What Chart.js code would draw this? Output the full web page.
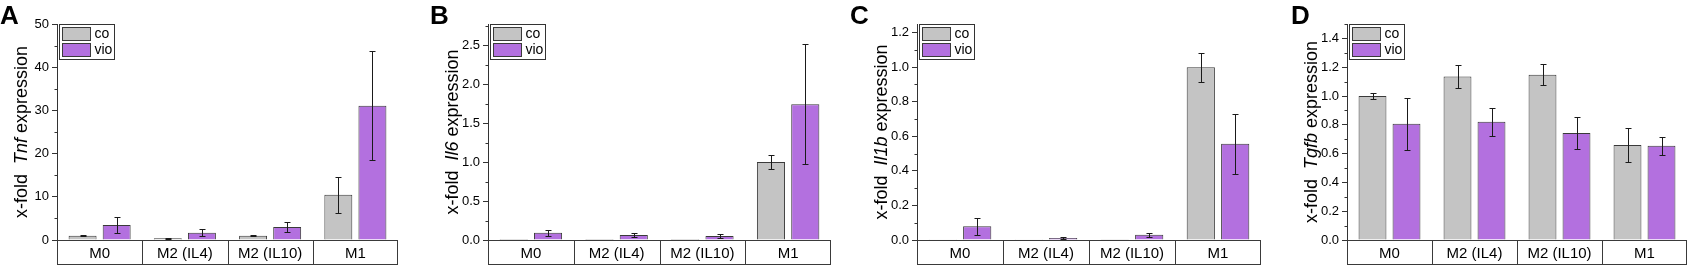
<!DOCTYPE html>
<html>
<head>
<meta charset="utf-8">
<script src="https://cdn.jsdelivr.net/npm/chart.js@4.4.1/dist/chart.umd.min.js"></script>
<style>
  html, body { margin:0; padding:0; background:#fff; }
  #wrap { position:relative; width:1688px; height:265px; overflow:hidden; background:#fff; }
  canvas { position:absolute; top:0; }
  .letter { position:absolute; top:2px; font-family:"Liberation Sans", Arial, sans-serif; font-weight:bold; font-size:26px; line-height:26px; color:#000; }
</style>
</head>
<body>
<div id="wrap">
  <canvas id="cA" width="420" height="265" style="left:0px"></canvas>
  <canvas id="cB" width="420" height="265" style="left:420px"></canvas>
  <canvas id="cC" width="428" height="265" style="left:840px"></canvas>
  <canvas id="cD" width="428" height="265" style="left:1260px"></canvas>
  <div class="letter" style="left:0px">A</div>
  <div class="letter" style="left:430px">B</div>
  <div class="letter" style="left:850px">C</div>
  <div class="letter" style="left:1291px">D</div>
</div>
<script>
// ---------- data ----------
const categories = ['M0', 'M2 (IL4)', 'M2 (IL10)', 'M1'];
const seriesNames = ['co', 'vio'];

const tnfCo     = [1.0, 0.4, 1.0, 10.45];
const tnfCoErr  = [0.1, 0.08, 0.15, 4.1];
const tnfVio    = [3.5, 1.7, 3.0, 31.1];
const tnfVioErr = [1.8, 0.85, 1.2, 12.6];

const il6Co     = [0.001, 0.001, 0.001, 1.0];
const il6CoErr  = [0, 0, 0, 0.095];
const il6Vio    = [0.094, 0.064, 0.051, 1.74];
const il6VioErr = [0.04, 0.025, 0.03, 0.77];

const il1bCo     = [0.001, 0.001, 0.002, 1.0];
const il1bCoErr  = [0, 0, 0, 0.084];
const il1bVio    = [0.079, 0.012, 0.031, 0.557];
const il1bVioErr = [0.048, 0.004, 0.012, 0.173];

const tgfbCo     = [1.0, 1.135, 1.147, 0.659];
const tgfbCoErr  = [0.02, 0.078, 0.073, 0.118];
const tgfbVio    = [0.808, 0.822, 0.743, 0.655];
const tgfbVioErr = [0.18, 0.097, 0.109, 0.063];

const yMaxA = 50,   yStepA = 10;
const yMaxB = 2.77, yStepB = 0.5;
const yMaxC = 1.25, yStepC = 0.2;
const yMaxD = 1.5,  yStepD = 0.2;

// ---------- styling ----------
const FONT = '"Liberation Sans", Arial, sans-serif';
Chart.defaults.font.family = FONT;
const COLORS = ['#c4c4c4', '#b370df'];
const LINE = '#3a3a3a';

const errorBarPlugin = {
  id: 'errorBars',
  afterDatasetsDraw(chart) {
    const ctx = chart.ctx, y = chart.scales.y;
    ctx.save();
    ctx.strokeStyle = '#1a1a1a';
    ctx.lineWidth = 1;
    chart.data.datasets.forEach((ds, di) => {
      const meta = chart.getDatasetMeta(di);
      meta.data.forEach((bar, i) => {
        const e = ds.errors[i];
        if (!e) return;
        const v = ds.data[i];
        const x = Math.round(bar.x) + 0.5;
        const yt = Math.round(y.getPixelForValue(v + e)) + 0.5;
        const yb = Math.round(y.getPixelForValue(Math.max(v - e, 0))) + 0.5;
        ctx.beginPath();
        ctx.moveTo(x, yt); ctx.lineTo(x, yb);
        ctx.moveTo(x - 3, yt); ctx.lineTo(x + 3, yt);
        ctx.moveTo(x - 3, yb); ctx.lineTo(x + 3, yb);
        ctx.stroke();
      });
    });
    ctx.restore();
  }
};

const decorPlugin = {
  id: 'decor',
  afterDraw(chart, args, opts) {
    const ctx = chart.ctx, ca = chart.chartArea, x = chart.scales.x, y = chart.scales.y;
    ctx.save();
    // category box
    ctx.strokeStyle = LINE;
    ctx.lineWidth = 1;
    const L = Math.round(ca.left) + 0.5, R = Math.round(ca.right) - 0.5;
    const T = Math.round(ca.bottom) + 0.5, B = T + 24;
    ctx.strokeRect(L, T, R - L, B - T);
    ctx.beginPath();
    for (let i = 0; i < categories.length - 1; i++) {
      const xm = Math.round((x.getPixelForValue(i) + x.getPixelForValue(i + 1)) / 2) + 0.5;
      ctx.moveTo(xm, T); ctx.lineTo(xm, B);
    }
    ctx.stroke();
    // minor ticks
    ctx.beginPath();
    const step = opts.step;
    for (let v = step / 2; v <= y.max + 1e-9; v += step) {
      const py = Math.round(y.getPixelForValue(v)) + 0.5;
      ctx.moveTo(L - 3, py); ctx.lineTo(L, py);
    }
    ctx.strokeStyle = '#333';
    ctx.stroke();
    // legend
    const lx = L + 2, ly = Math.round(ca.top) + 0.5;
    ctx.fillStyle = '#fff';
    ctx.fillRect(lx, ly, 55, 35);
    ctx.strokeStyle = '#333';
    ctx.strokeRect(lx, ly, 55, 35);
    chart.data.datasets.forEach((ds, di) => {
      const sy = ly + 3 + di * 16;
      ctx.fillStyle = ds.backgroundColor;
      ctx.fillRect(lx + 3, sy, 28, 13);
      ctx.strokeStyle = LINE;
      ctx.strokeRect(lx + 3, sy, 28, 13);
      ctx.fillStyle = '#000';
      ctx.font = '14px ' + FONT;
      ctx.textBaseline = 'middle';
      ctx.textAlign = 'left';
      ctx.fillText(ds.label, lx + 35, sy + 7);
    });
    // axis title with italic gene name
    const parts = [['x-fold  ', 'normal'], [opts.gene, 'italic'], [' expression', 'normal']];
    let total = 0;
    const widths = parts.map(p => { ctx.font = p[1] + ' 18px ' + FONT; const w = ctx.measureText(p[0]).width; total += w; return w; });
    ctx.translate(opts.titleX, (ca.top + ca.bottom) / 2);
    ctx.rotate(-Math.PI / 2);
    ctx.fillStyle = '#000';
    ctx.textBaseline = 'middle';
    ctx.textAlign = 'left';
    let cx = -total / 2;
    parts.forEach((p, i) => { ctx.font = p[1] + ' 18px ' + FONT; ctx.fillText(p[0], cx, 0); cx += widths[i]; });
    ctx.restore();
  }
};

function makeChart(id, cfg) {
  new Chart(document.getElementById(id), {
    type: 'bar',
    data: {
      labels: categories,
      datasets: [
        { label: seriesNames[0], data: cfg.co, errors: cfg.coErr, backgroundColor: COLORS[0], borderColor: LINE, borderWidth: 1, categoryPercentage: 0.8, barPercentage: 0.82 },
        { label: seriesNames[1], data: cfg.vio, errors: cfg.vioErr, backgroundColor: COLORS[1], borderColor: LINE, borderWidth: 1, categoryPercentage: 0.8, barPercentage: 0.82 }
      ]
    },
    options: {
      responsive: false,
      animation: false,
      devicePixelRatio: 1,
      layout: { padding: { top: 24, right: cfg.rightPad, bottom: 0, left: 0 } },
      plugins: {
        legend: { display: false },
        tooltip: { enabled: false },
        decor: { step: cfg.step, gene: cfg.gene, titleX: cfg.axisLeft - 35 }
      },
      scales: {
        x: {
          grid: { display: false, drawTicks: false, tickLength: 0 },
          border: { display: false },
          ticks: { font: { size: 15 }, color: '#000', padding: 5 },
          afterFit(s) { s.height = 25; }
        },
        y: {
          min: 0, max: cfg.max,
          afterFit(s) { s.width = cfg.axisLeft; },
          ticks: {
            stepSize: cfg.step, includeBounds: false,
            callback: v => cfg.dec ? Number(v).toFixed(cfg.dec) : String(Math.round(v)),
            font: { size: 13 }, color: '#000', padding: 3
          },
          grid: { drawOnChartArea: false, drawTicks: true, tickLength: 5, tickColor: '#333' },
          border: { display: true, color: '#333', width: 1 }
        }
      }
    },
    plugins: [errorBarPlugin, decorPlugin]
  });
}

makeChart('cA', { co: tnfCo, coErr: tnfCoErr, vio: tnfVio, vioErr: tnfVioErr, max: yMaxA, step: yStepA, dec: 0, gene: 'Tnf', axisLeft: 57, rightPad: 22 });
makeChart('cB', { co: il6Co, coErr: il6CoErr, vio: il6Vio, vioErr: il6VioErr, max: yMaxB, step: yStepB, dec: 1, gene: 'Il6', axisLeft: 68, rightPad: 9 });
makeChart('cC', { co: il1bCo, coErr: il1bCoErr, vio: il1bVio, vioErr: il1bVioErr, max: yMaxC, step: yStepC, dec: 1, gene: 'Il1b', axisLeft: 77, rightPad: 7 });
makeChart('cD', { co: tgfbCo, coErr: tgfbCoErr, vio: tgfbVio, vioErr: tgfbVioErr, max: yMaxD, step: yStepD, dec: 1, gene: 'Tgfb', axisLeft: 87, rightPad: 1 });
</script>
</body>
</html>
